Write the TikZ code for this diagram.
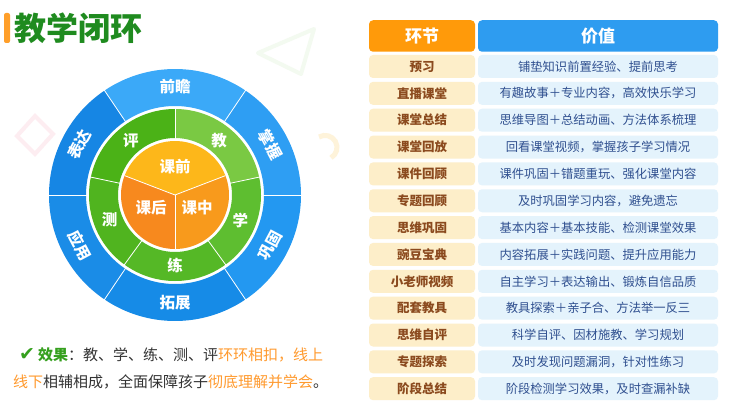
\documentclass[tikz,border=0pt]{standalone}
\usepackage{fontspec}
\setmainfont{Noto Sans CJK SC}
\newfontfamily\symfont{DejaVu Sans}
\usepackage{xcolor}
\definecolor{titleGreen}{HTML}{1F8B1F}
\definecolor{barOrange}{HTML}{FF9F2A}
\definecolor{blueTop}{HTML}{3BA9F8}
\definecolor{blueRU}{HTML}{2E9EF3}
\definecolor{blueRD}{HTML}{2398F1}
\definecolor{blueBot}{HTML}{168BE7}
\definecolor{blueLD}{HTML}{1A8CE7}
\definecolor{blueLU}{HTML}{1686E4}
\definecolor{greenPing}{HTML}{4BB217}
\definecolor{greenJiao}{HTML}{7AC943}
\definecolor{greenXue}{HTML}{5EBE30}
\definecolor{greenLian}{HTML}{55B826}
\definecolor{greenCe}{HTML}{50B41F}
\definecolor{orangePre}{HTML}{FDB71A}
\definecolor{orangeMid}{HTML}{F89A1C}
\definecolor{orangePost}{HTML}{F7891E}
\definecolor{headOrange}{HTML}{FF9A0A}
\definecolor{headBlue}{HTML}{2E9CF0}
\definecolor{stageFill}{HTML}{FDEEC9}
\definecolor{stageText}{HTML}{8B4A1E}
\definecolor{valueFill}{HTML}{E4F3FC}
\definecolor{valueText}{HTML}{2F4F8F}
\definecolor{effGreen}{HTML}{35A01E}
\definecolor{effText}{HTML}{333333}
\definecolor{effOrange}{HTML}{FF9A2E}
\definecolor{decoPink}{HTML}{FDEDF1}
\definecolor{decoYellow}{HTML}{FEF3DA}
\definecolor{decoGreen}{HTML}{F3FAF0}
\newcommand{\ringpart}[5]{\fill[#1] (#2:#4) arc[start angle=#2, end angle=#3, radius=#4] -- (#3:#5) arc[start angle=#3, end angle=#2, radius=#5] -- cycle;}

\tikzset{
  ringlabel/.style={text=white, font=\fontsize{15.5}{18}\selectfont\bfseries, inner sep=0pt},
  headcell/.style={rounded corners=4pt, minimum height=31.5pt, inner sep=0pt, text=white, font=\fontsize{17}{20}\selectfont\bfseries},
  stagecell/.style={fill=stageFill, rounded corners=4pt, minimum width=106pt, minimum height=23pt, inner sep=0pt, text=stageText, font=\fontsize{12.5}{15}\selectfont\bfseries},
  valuecell/.style={fill=valueFill, rounded corners=4pt, minimum width=240pt, minimum height=23pt, inner sep=0pt, text=valueText, font=\fontsize{12.3}{15}\selectfont},
  efftext/.style={anchor=west, inner sep=0pt, text=effText, font=\fontsize{15}{18}\selectfont}
}

\begin{document}
\begin{tikzpicture}[x=1pt, y=1pt]
  \fill[white] (0,0) rectangle (730,413);
  \useasboundingbox (0,0) rectangle (730,413);

  \draw[line width=4pt, decoPink] (35,259) -- (53,279) -- (35,297) -- (17,277) -- cycle;
  \draw[line width=5pt, decoYellow] (319,276) arc[start angle=120, end angle=-60, radius=12pt];
  \draw[line width=4pt, decoGreen, line join=round] (258,360) -- (314,384) -- (301,339) -- cycle;

  \fill[barOrange, rounded corners=2pt] (4,370) rectangle (10,400);
  \node[anchor=west, inner sep=0pt, text=titleGreen, font=\fontsize{32}{36}\selectfont\bfseries] (title) at (14,385) {教学闭环};

  \begin{scope}[shift={(175,218)}]
    \ringpart{blueTop}{56}{124}{126pt}{89pt}
    \ringpart{blueRU}{0}{56}{126pt}{89pt}
    \ringpart{blueRD}{-56}{0}{126pt}{89pt}
    \ringpart{blueBot}{-124}{-56}{126pt}{89pt}
    \ringpart{blueLD}{180}{236}{126pt}{89pt}
    \ringpart{blueLU}{124}{180}{126pt}{89pt}
    \foreach \ang in {0,56,124,180,236,304}
      \draw[white, line width=0.8pt] (\ang:88pt) -- (\ang:127pt);

    \ringpart{greenJiao}{12}{90}{86pt}{57pt}
    \ringpart{greenXue}{-54}{12}{86pt}{57pt}
    \ringpart{greenLian}{-126}{-54}{86pt}{57pt}
    \ringpart{greenCe}{168}{234}{86pt}{57pt}
    \ringpart{greenPing}{90}{168}{86pt}{57pt}
    \foreach \ang in {90,12,-54,-126,168}
      \draw[white, line width=0.8pt] (\ang:56pt) -- (\ang:87pt);

    \fill[orangePre] (0,0) -- (21:54pt) arc[start angle=21, end angle=159, radius=54pt] -- cycle;
    \fill[orangeMid] (0,0) -- (-90:54pt) arc[start angle=-90, end angle=21, radius=54pt] -- cycle;
    \fill[orangePost] (0,0) -- (159:54pt) arc[start angle=159, end angle=270, radius=54pt] -- cycle;
    \foreach \ang in {21,159,270}
      \draw[white, line width=0.8pt] (0,0) -- (\ang:54pt);

    \foreach \ang/\rot/\txt [count=\i] in {90/0/前瞻, 28/-62/掌握, -28/62/巩固, -90/0/拓展, -152/-62/应用, 152/62/表达}
      \node[ringlabel, rotate=\rot] (outer\i) at (\ang:108pt) {\txt};

    \foreach \ang/\txt [count=\i] in {129/评, 51/教, -21/学, -90/练, -159/测}
      \node[ringlabel] (mid\i) at (\ang:70pt) {\txt};

    \node[ringlabel] (pre) at (0,28) {课前};
    \node[ringlabel] (during) at (22,-13) {课中};
    \node[ringlabel] (post) at (-24,-13) {课后};
  \end{scope}

  \node[efftext] (eff1) at (19,58) {{\symfont\fontsize{19}{20}\selectfont\color{effGreen}✔}\hspace{3pt}{\color{effGreen}\bfseries 效果}：教、学、练、测、评{\color{effOrange}环环相扣，线上}};
  \node[efftext] (eff2) at (13,31) {{\color{effOrange}线下}相辅相成，全面保障孩子{\color{effOrange}彻底理解并学会}。};

  \node[headcell, fill=headOrange, minimum width=106pt] (stagehead) at (422,377) {环节};
  \node[headcell, fill=headBlue, minimum width=240pt] (valuehead) at (598,377) {价值};

  \foreach \stage/\value [count=\i] in {
    预习/铺垫知识前置经验、提前思考,
    直播课堂/有趣故事＋专业内容，高效快乐学习,
    课堂总结/思维导图＋总结动画、方法体系梳理,
    课堂回放/回看课堂视频，掌握孩子学习情况,
    课件回顾/课件巩固＋错题重玩、强化课堂内容,
    专题回顾/及时巩固学习内容，避免遗忘,
    思维巩固/基本内容＋基本技能、检测课堂效果,
    豌豆宝典/内容拓展＋实践问题、提升应用能力,
    小老师视频/自主学习＋表达输出、锻炼自信品质,
    配套教具/教具探索＋亲子合、方法举一反三,
    思维自评/科学自评、因材施教、学习规划,
    专题探索/及时发现问题漏洞，针对性练习,
    阶段总结/阶段检测学习效果，及时查漏补缺}
  {
    \node[stagecell] (stage\i) at (422,{346.5-(\i-1)*26.85}) {\stage};
    \node[valuecell] (value\i) at (598,{346.5-(\i-1)*26.85}) {\value};
  }
\end{tikzpicture}
\end{document}
